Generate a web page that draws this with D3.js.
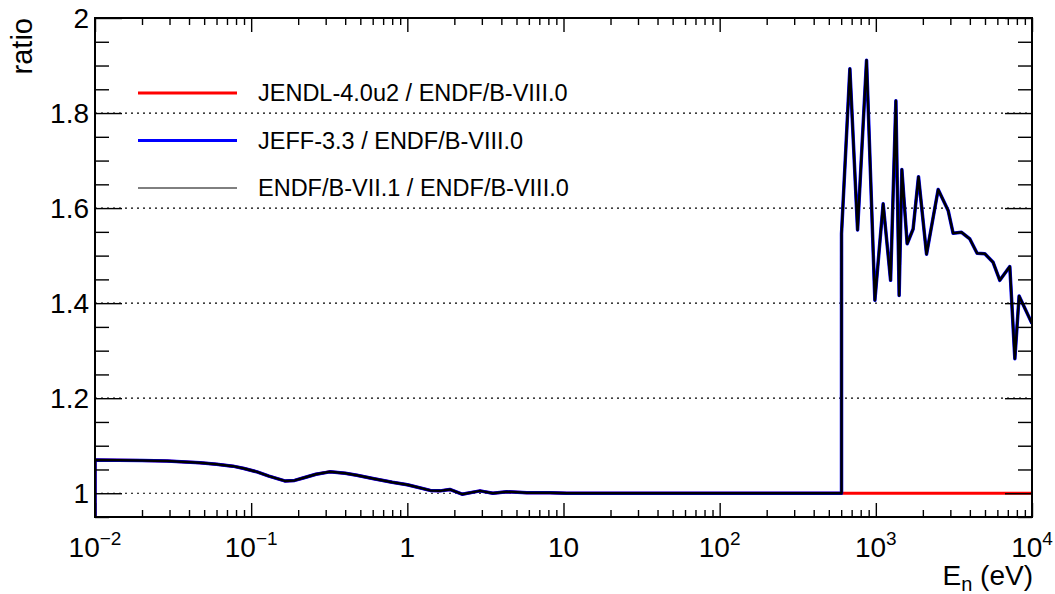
<!DOCTYPE html>
<html>
<head>
<meta charset="utf-8">
<script src="https://cdn.jsdelivr.net/npm/d3@7"></script>
<style>
  body { margin: 0; background: #fff; }
  svg { display: block; font-family: "Liberation Sans", Arial, sans-serif; }
</style>
</head>
<body>
<div id="chart"></div>
<script>
// values
// below the ~600 eV threshold all three libraries give the same ratio
var lowEnergy = [0.01, 0.01, 0.02, 0.0289, 0.047, 0.06, 0.0764, 0.09, 0.109, 0.13, 0.164, 0.19, 0.215,
                 0.26, 0.319, 0.4, 0.475, 0.6, 0.8, 1.0, 1.4, 1.62, 1.87, 2.24, 2.92, 3.53, 4.34,
                 5.83, 8.18, 10.5, 603];
var lowRatio = [0.0, 1.070, 1.069, 1.068, 1.064, 1.061, 1.057, 1.052, 1.045, 1.036, 1.026, 1.027, 1.032,
                1.040, 1.045, 1.042, 1.038, 1.031, 1.023, 1.018, 1.006, 1.005, 1.008, 0.998, 1.005, 1.000, 1.003,
                1.001, 1.001, 1.000, 1.000];

var highEnergy = [603, 682, 764, 872, 986, 1114, 1243, 1344, 1410, 1468, 1587, 1733, 1876,
                  2112, 2507, 2904, 3126, 3538, 3999, 4451, 4986, 5635, 6221, 7209, 7766, 8267, 10000];
// JEFF-3.3 and ENDF/B-VII.1 (identical in the picture)
var highRatio = [1.546, 1.893, 1.554, 1.911, 1.406, 1.609, 1.448, 1.826, 1.416, 1.681, 1.525, 1.556, 1.666,
                 1.503, 1.639, 1.595, 1.547, 1.549, 1.535, 1.505, 1.504, 1.486, 1.448, 1.477, 1.283, 1.415, 1.357];
var jendlHighRatio = [1.0, 1.0, 1.0, 1.0, 1.0, 1.0, 1.0, 1.0, 1.0, 1.0, 1.0, 1.0, 1.0,
                      1.0, 1.0, 1.0, 1.0, 1.0, 1.0, 1.0, 1.0, 1.0, 1.0, 1.0, 1.0, 1.0, 1.0];

var legendNames = ["JENDL-4.0u2 / ENDF/B-VIII.0", "JEFF-3.3 / ENDF/B-VIII.0", "ENDF/B-VII.1 / ENDF/B-VIII.0"];
var lineColors = ["#ff0000", "#0000ff", "#000000"];
var plotWidths = [3, 3.5, 2.5];
var legendWidths = [3, 3, 1];

var xMajor = [1e-2, 1e-1, 1, 10, 1e2, 1e3, 1e4];
var xLabels = [["10", "\u22122"], ["10", "\u22121"], ["1", ""], ["10", ""], ["10", "2"], ["10", "3"], ["10", "4"]];
var yMajor = [1, 1.2, 1.4, 1.6, 1.8, 2];
var yLabels = ["1", "1.2", "1.4", "1.6", "1.8", "2"];

var W = 1055, H = 594,
  LEFT = 95, RIGHT = 1032, TOP = 18, BOTTOM = 517;

function zip(xs, ys) {
  return xs.map(function(e, i) { return [e, ys[i]]; });
}

var series = [
  zip(lowEnergy.concat(highEnergy), lowRatio.concat(jendlHighRatio)),
  zip(lowEnergy.concat(highEnergy), lowRatio.concat(highRatio)),
  zip(lowEnergy.concat(highEnergy), lowRatio.concat(highRatio))
];

var x = d3.scaleLog().domain([1e-2, 1e4]).range([LEFT, RIGHT]);
var y = d3.scaleLinear().domain([0.95, 2]).range([BOTTOM, TOP]);

var xMinor = [];
xMajor.slice(0, -1).forEach(function(d) {
  for (var k = 2; k <= 9; k++) xMinor.push(d * k);
});
var yMinor = d3.range(0.95, 2.001, 0.05).filter(function(v) {
  return Math.abs(Math.round(v * 5) - v * 5) > 1e-6;
});

var svg = d3.select("#chart").append("svg")
  .attr("width", W)
  .attr("height", H);

svg.append("defs").append("clipPath").attr("id", "plotclip")
  .append("rect")
  .attr("x", LEFT).attr("y", TOP)
  .attr("width", RIGHT - LEFT).attr("height", BOTTOM - TOP);

// dotted horizontal grid
svg.append("g").selectAll("line")
  .data(yMajor.filter(function(v) { return v < 2; }))
  .enter().append("line")
  .attr("x1", LEFT).attr("x2", RIGHT)
  .attr("y1", function(d) { return y(d); })
  .attr("y2", function(d) { return y(d); })
  .style("stroke", "#000")
  .style("stroke-width", 1.2)
  .style("stroke-dasharray", "2,4");

// data lines
var line = d3.line()
  .x(function(d) { return x(d[0]); })
  .y(function(d) { return y(d[1]); });

svg.append("g").attr("clip-path", "url(#plotclip)")
  .selectAll("path")
  .data(series)
  .enter().append("path")
  .attr("d", line)
  .style("fill", "none")
  .style("stroke", function(d, i) { return lineColors[i]; })
  .style("stroke-width", function(d, i) { return plotWidths[i]; })
  .style("stroke-linejoin", "round");

// ticks, ROOT style (inside the frame, on all four sides)
function ticks(axis, tx, ty) {
  var g = svg.append("g").attr("transform", "translate(" + tx + "," + ty + ")").call(axis);
  g.select(".domain").remove();
  g.selectAll("line").style("stroke", "#000").style("stroke-width", 1.4);
  g.selectAll("text").remove();
}
ticks(d3.axisBottom(x).tickValues(xMajor).tickSize(-14), 0, BOTTOM);
ticks(d3.axisBottom(x).tickValues(xMinor).tickSize(-7), 0, BOTTOM);
ticks(d3.axisTop(x).tickValues(xMajor).tickSize(-14), 0, TOP);
ticks(d3.axisTop(x).tickValues(xMinor).tickSize(-7), 0, TOP);
ticks(d3.axisLeft(y).tickValues(yMajor).tickSize(-27), LEFT, 0);
ticks(d3.axisLeft(y).tickValues(yMinor).tickSize(-14), LEFT, 0);
ticks(d3.axisRight(y).tickValues(yMajor).tickSize(-27), RIGHT, 0);
ticks(d3.axisRight(y).tickValues(yMinor).tickSize(-14), RIGHT, 0);

// frame
svg.append("rect")
  .attr("x", LEFT).attr("y", TOP)
  .attr("width", RIGHT - LEFT).attr("height", BOTTOM - TOP)
  .style("fill", "none")
  .style("stroke", "#000")
  .style("stroke-width", 2);

// tick labels
var xl = svg.append("g").selectAll("text")
  .data(xMajor)
  .enter().append("text")
  .attr("x", function(d) { return x(d); })
  .attr("y", 557)
  .attr("text-anchor", "middle")
  .style("font-size", "28px");
xl.append("tspan").text(function(d, i) { return xLabels[i][0]; });
xl.append("tspan")
  .attr("dy", -12)
  .style("font-size", "19px")
  .text(function(d, i) { return xLabels[i][1]; });

svg.append("g").selectAll("text")
  .data(yMajor)
  .enter().append("text")
  .attr("x", 89)
  .attr("y", function(d) { return y(d); })
  .attr("dy", "0.36em")
  .attr("text-anchor", "end")
  .style("font-size", "28px")
  .text(function(d, i) { return yLabels[i]; });

// axis titles
var xt = svg.append("text")
  .attr("x", 1033).attr("y", 585)
  .attr("text-anchor", "end")
  .style("font-size", "28px");
xt.append("tspan").text("E");
xt.append("tspan").attr("dy", 6).style("font-size", "20px").text("n");
xt.append("tspan").attr("dy", -6).text(" (eV)");

svg.append("text")
  .attr("transform", "translate(32," + TOP + ") rotate(-90)")
  .attr("text-anchor", "end")
  .style("font-size", "29px")
  .text("ratio");

// legend
var legendY = [93, 140.5, 188];
var lg = svg.append("g").selectAll("g")
  .data(legendNames)
  .enter().append("g")
  .attr("transform", function(d, i) { return "translate(0," + legendY[i] + ")"; });
lg.append("line")
  .attr("x1", 138).attr("x2", 237)
  .style("stroke", function(d, i) { return lineColors[i]; })
  .style("stroke-width", function(d, i) { return legendWidths[i]; });
lg.append("text")
  .attr("x", 258)
  .attr("dy", "0.36em")
  .style("font-size", "23.5px")
  .text(function(d) { return d; });
</script>
</body>
</html>
